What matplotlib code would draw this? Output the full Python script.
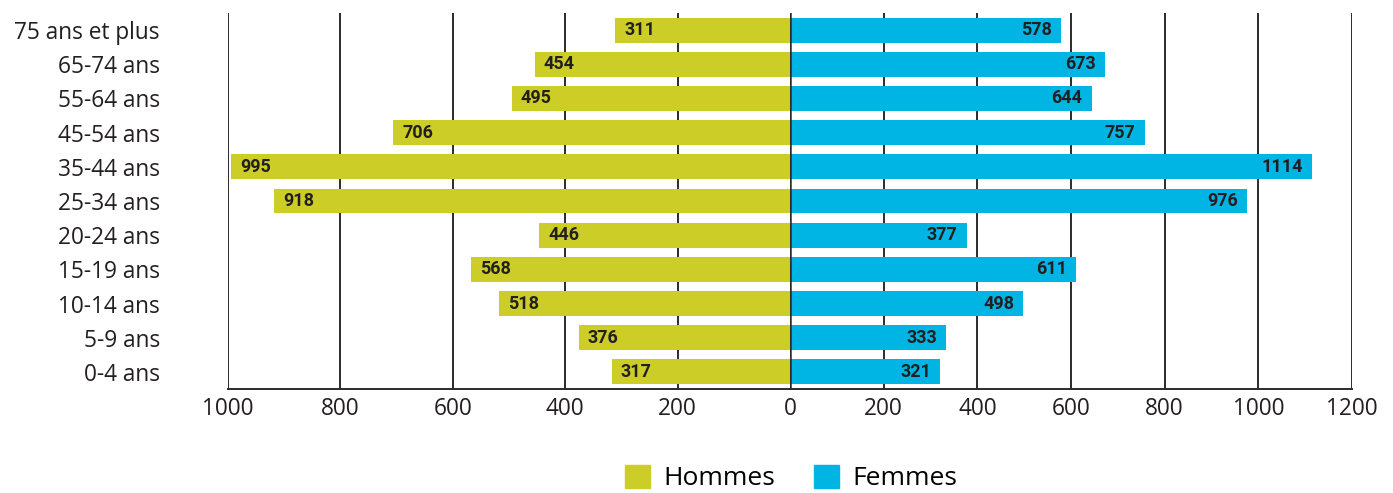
import matplotlib
matplotlib.use("Agg")
import matplotlib.pyplot as plt
from matplotlib.patches import Patch

categories = ["75 ans et plus", "65-74 ans", "55-64 ans", "45-54 ans", "35-44 ans",
              "25-34 ans", "20-24 ans", "15-19 ans", "10-14 ans", "5-9 ans", "0-4 ans"]
hommes = [311, 454, 495, 706, 995, 918, 446, 568, 518, 376, 317]
femmes = [578, 673, 644, 757, 1114, 976, 377, 611, 498, 333, 321]
left_ticks = [1000, 800, 600, 400, 200]
right_ticks = [0, 200, 400, 600, 800, 1000, 1200]

c_h = "#CDCD28"
c_f = "#00B4E4"
grid_c = "#2b2b2b"
txt_c = "#231F20"
font = "Open Sans"
lab_font = "Roboto"
fs = 16.3

W, H = 1393, 493
fig = plt.figure(figsize=(W / 100, H / 100), dpi=100)
y0, y1 = 13, 389
bottom = (H - y1) / H
height = (y1 - y0) / H
axL = fig.add_axes([228 / W, bottom, 562 / W, height])
axR = fig.add_axes([790 / W, bottom, 562 / W, height])

n = len(categories)
ypos = list(range(n - 1, -1, -1))

for ax in (axL, axR):
    ax.set_ylim(-0.5, n - 0.5)
    for s in ("left", "right", "top"):
        ax.spines[s].set_visible(False)
    ax.spines["bottom"].set_color(grid_c)
    ax.spines["bottom"].set_linewidth(1.4)
    ax.tick_params(axis="x", length=0, pad=6)

axL.set_xlim(1000, 0)
axR.set_xlim(0, 1200)

for t in left_ticks:
    axL.axvline(t, color=grid_c, lw=1.4, zorder=0)
for t in right_ticks:
    axR.axvline(t, color=grid_c, lw=1.4 if t else 1.8, zorder=0 if t else 3)

axL.barh(ypos, hommes, height=0.73, color=c_h, zorder=2)
axR.barh(ypos, femmes, height=0.73, color=c_f, zorder=2)

for y, v in zip(ypos, hommes):
    axL.annotate(str(v), (v, y), xytext=(6.5, 0), textcoords="offset points",
                 ha="left", va="center", fontsize=13, fontweight="bold",
                 family=lab_font, color=txt_c, zorder=4)
for y, v in zip(ypos, femmes):
    axR.annotate(str(v), (v, y), xytext=(-6.5, 0), textcoords="offset points",
                 ha="right", va="center", fontsize=13, fontweight="bold",
                 family=lab_font, color=txt_c, zorder=4)

axL.set_xticks(left_ticks)
axL.set_xticklabels([str(t) for t in left_ticks], family=font, fontsize=fs, color=txt_c)
axR.set_xticks(right_ticks)
axR.set_xticklabels([str(t) for t in right_ticks], family=font, fontsize=fs, color=txt_c)

axL.set_yticks(ypos)
axL.set_yticklabels(categories, family=font, fontsize=fs, color=txt_c)
axL.tick_params(axis="y", length=0, pad=49)
axR.set_yticks([])

handles = [Patch(color=c_h, label="Hommes"), Patch(color=c_f, label="Femmes")]
fig.legend(handles=handles, loc="center", bbox_to_anchor=(791 / W, 15 / H),
           ncol=2, frameon=False, prop={"family": font, "size": 19},
           handlelength=0.95, handleheight=0.95, columnspacing=1.5, handletextpad=0.5,
           borderpad=0.1)

fig.savefig("out.png", dpi=100)
